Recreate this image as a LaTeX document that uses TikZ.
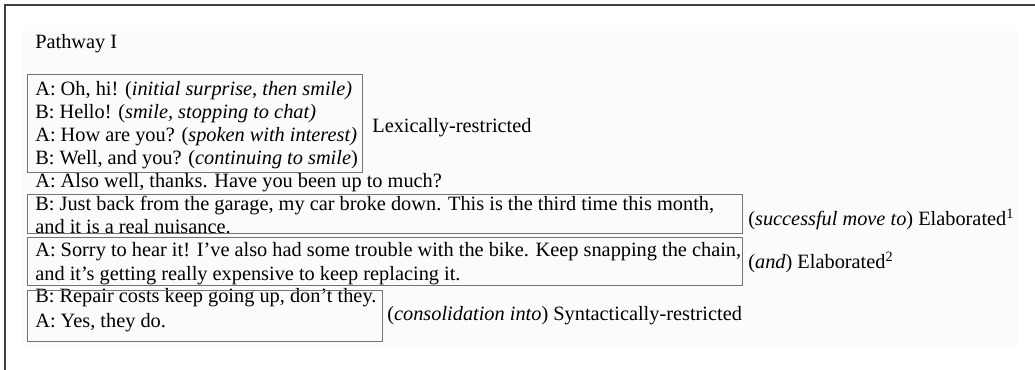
\documentclass[tikz,border=0pt]{standalone}
\usepackage{fontspec}
\setmainfont{Liberation Serif}
\usetikzlibrary{positioning}

\begin{document}
\begin{tikzpicture}[x=0.6pt,y=-0.6pt,
  every node/.style={inner sep=0pt,anchor=base west,font=\fontsize{12.2}{14}\selectfont},
  turnbox/.style={draw=black!55,line width=0.6pt},
  frameline/.style={draw=black!75,line width=1pt}]
\useasboundingbox (0,0) rectangle (1035,370);
\fill[black!1.5] (22,31) rectangle (1018,346);
\draw[frameline] (5,380) -- (5,5) -- (1045,5);
% title
\node (title) at (35,49) {Pathway I};
% greeting exchange
\node (t1) at (35,96) {A: Oh, hi! (\textit{initial surprise, then smile)}};
\node (t2) at (35,119) {B: Hello! (\textit{smile, stopping to chat)}};
\node (t3) at (35,142) {A: How are you? (\textit{spoken with interest)}};
\node (t4) at (35,165) {B: Well, and you? (\textit{continuing to smile})};
\node (t5) at (35,188) {A: Also well, thanks. Have you been up to much?};
% elaborated turns
\node (t6) at (35,211) {B: Just back from the garage, my car broke down. This is the third time this month,};
\node (t7) at (35,234) {and it is a real nuisance.};
\node (t8) at (35,257) {A: Sorry to hear it! I’ve also had some trouble with the bike. Keep snapping the chain,};
\node (t9) at (35,281) {and it’s getting really expensive to keep replacing it.};
% closing exchange
\node (t10) at (35,303) {B: Repair costs keep going up, don’t they.};
\node (t11) at (35,328) {A: Yes, they do.};
% boxes
\draw[turnbox] (27,75) rectangle (362,173);
\draw[turnbox] (27,195) rectangle (742,234);
\draw[turnbox] (27,238) rectangle (742,286);
\draw[turnbox] (27,291) rectangle (382,342);
% stage labels
\node (lex) at (372,133) {Lexically-restricted};
\node (elab1) at (748,226) {(\textit{successful move to}) Elaborated\textsuperscript{1}};
\node (elab2) at (748,269) {(\textit{and}) Elaborated\textsuperscript{2}};
\node (syn) at (387,321) {(\textit{consolidation into}) Syntactically-restricted};
\end{tikzpicture}
\end{document}
